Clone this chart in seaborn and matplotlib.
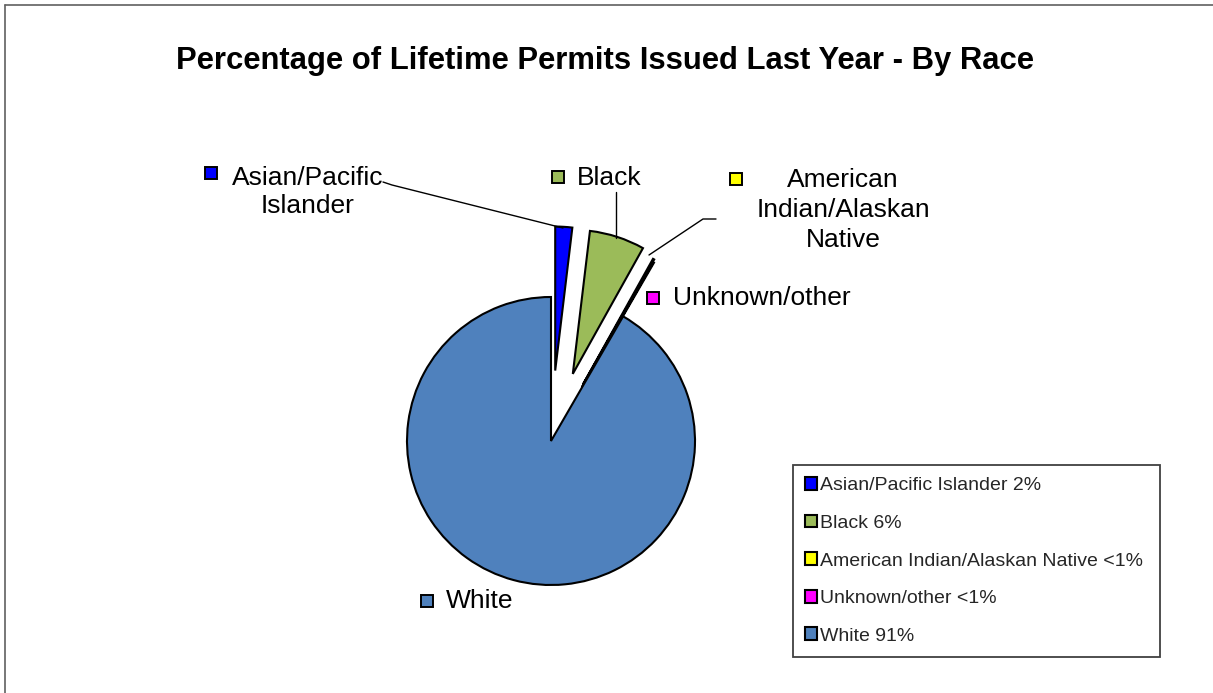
import matplotlib
matplotlib.use('Agg')
import matplotlib.pyplot as plt
import seaborn as sns

# Datos del gráfico
categories = ['Asian/Pacific Islander', 'Black', 'American Indian/Alaskan Native',
              'Unknown/other', 'White']
shares = [1.9, 6.2, 0.15, 0.1, 91.65]
slice_labels = ['Asian/Pacific\nIslander', 'Black', 'American\nIndian/Alaskan\nNative',
                'Unknown/other', 'White']
legend_labels = ['Asian/Pacific Islander 2%', 'Black 6%',
                 'American Indian/Alaskan Native <1%', 'Unknown/other <1%', 'White 91%']
colors = ['#0000FF', '#9BBB59', '#FFFF00', '#FF00FF', '#4F81BD']
explode = [0.49, 0.49, 0.45, 0.43, 0.0]

sns.set_theme(style='white')
plt.rcParams['font.family'] = ['Liberation Sans', 'DejaVu Sans']

W, H = 1213, 693
R = 144
fig = plt.figure(figsize=(W / 100, H / 100), dpi=100)
ax = fig.add_axes([0, 0, 1, 1])


def py(y):
    # coordenada y de la imagen -> coordenada del eje
    return H - y


# explode de matplotlib va en unidades de datos, por eso se multiplica por el radio
wedges, _ = ax.pie(shares, colors=colors, explode=[e * R for e in explode], startangle=90,
                   counterclock=False, center=(551, py(441)), radius=R,
                   wedgeprops=dict(edgecolor='black', linewidth=1.5), frame=True)
ax.set_xlim(0, W)
ax.set_ylim(0, H)
ax.set_aspect('equal')
ax.axis('off')

# Etiquetas de las porciones con su cuadrito de color
label_style = dict(fontsize=19, color='black')
marker_pos = [(211, 173), (557.5, 177), (736, 179), (652.5, 298), (426.5, 600.5)]
for (mx, my), c in zip(marker_pos, colors):
    ax.plot(mx, py(my), marker='s', ms=8.5, mfc=c, mec='black', mew=1.4)

ax.text(308, py(192), slice_labels[0], ha='center', va='center', multialignment='center',
        linespacing=1.2, **label_style)
ax.text(577, py(178), slice_labels[1], ha='left', va='center', **label_style)
ax.text(843, py(210), slice_labels[2], ha='center', va='center', multialignment='center',
        linespacing=1.3, **label_style)
ax.text(673, py(298), slice_labels[3], ha='left', va='center', **label_style)
ax.text(446, py(601.5), slice_labels[4], ha='left', va='center', **label_style)

# Líneas guía
ax.plot([383, 392, 563], [py(182), py(185), py(228)], color='black', lw=1.0)
ax.plot([616, 616], [py(192), py(238)], color='black', lw=1.0)
ax.plot([716, 703, 649], [py(219), py(219), py(255)], color='black', lw=1.0)

# Título
ax.text(605, py(61), 'Percentage of Lifetime Permits Issued Last Year - By Race',
        ha='center', va='center', fontsize=22.3, fontweight='bold', color='black')

# Leyenda
leg = ax.legend(wedges, legend_labels, loc='upper left',
                bbox_to_anchor=(793 / W, 1 - 657 / H, (1160 - 793) / W, (657 - 465) / H),
                bbox_transform=fig.transFigure, mode='expand', fontsize=14,
                handlelength=0.62, handleheight=0.62, handletextpad=0.15,
                labelspacing=1.05, borderpad=0.63, borderaxespad=0,
                frameon=True, fancybox=False, framealpha=1, edgecolor='#404040')
leg.get_frame().set_linewidth(1.3)

# Borde del área del gráfico (solo arriba e izquierda visibles)
ax.plot([5, W], [py(5), py(5)], color='#606060', lw=1.2)
ax.plot([5, 5], [py(5), 0], color='#606060', lw=1.2)

fig.savefig('out.png', dpi=100, facecolor='white')
